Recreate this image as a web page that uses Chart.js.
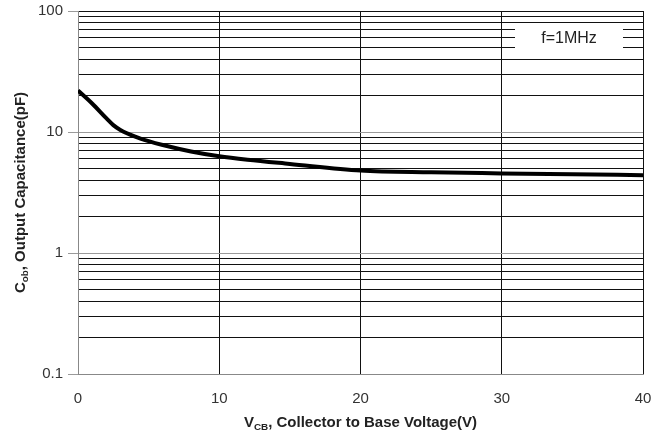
<!DOCTYPE html>
<html lang="en">
<head>
    <meta charset="UTF-8">
    <title>Output Capacitance</title>
    <script src="https://cdn.jsdelivr.net/npm/chart.js"></script>
    <style>
        body { margin: 0; background: #fff; }
        .grafico { width: 670px; height: 439px; position: relative; }
    </style>
</head>
<body>
    <div class="grafico">
        <canvas id="grafico_cob"></canvas>
    </div>

<script>
    // dados (V_CB em volts, C_ob em pF)
    const vcb = [0, 1, 2, 2.5, 3, 4, 5, 6, 8, 10, 12, 15, 20, 25, 30, 35, 40];
    const cob = [22, 17.2, 13.0, 11.4, 10.4, 9.2, 8.4, 7.8, 6.9, 6.3, 5.9, 5.45, 4.8, 4.64, 4.55, 4.47, 4.4];
    const yMajorTicks = [0.1, 1, 10, 100];
    const xTicks = [0, 10, 20, 30, 40];
    const legendaTexto = 'f=1MHz';

    // todas as linhas da grade log: 1..9 de cada década
    const yGridTicks = [];
    for (let d = 0; d < yMajorTicks.length - 1; d++) {
        for (let k = 1; k < 10; k++) yGridTicks.push(+(yMajorTicks[d] * k).toPrecision(3));
    }
    yGridTicks.push(yMajorTicks[yMajorTicks.length - 1]);

    const ehMaior = v => yMajorTicks.some(m => Math.abs(m - v) < 1e-9);

    function textoComSub(ctx, partes, x, y, tam) {
        let largura = 0;
        partes.forEach(p => {
            ctx.font = 'bold ' + (p.sub ? tam * 0.66 : tam) + 'px "Liberation Sans", Arial, sans-serif';
            largura += ctx.measureText(p.t).width;
        });
        let cx = x - largura / 2;
        ctx.textAlign = 'left';
        ctx.textBaseline = 'alphabetic';
        partes.forEach(p => {
            ctx.font = 'bold ' + (p.sub ? tam * 0.66 : tam) + 'px "Liberation Sans", Arial, sans-serif';
            ctx.fillText(p.t, cx, y + (p.sub ? 3 : 0));
            cx += ctx.measureText(p.t).width;
        });
    }

    const extras = {
        id: 'extras',
        beforeDatasetsDraw(chart) {
            const ctx = chart.ctx;
            // caixa da legenda
            ctx.save();
            ctx.fillStyle = '#fff';
            ctx.fillRect(515, 25, 108, 27);
            ctx.fillStyle = '#222';
            ctx.font = '16px "Liberation Sans", Arial, sans-serif';
            ctx.textAlign = 'center';
            ctx.textBaseline = 'middle';
            ctx.fillText(legendaTexto, 569, 39);
            ctx.restore();
        },
        afterDraw(chart) {
            const ctx = chart.ctx;
            const area = chart.chartArea;
            ctx.save();
            ctx.fillStyle = '#222';
            textoComSub(ctx, [{t: 'V'}, {t: 'CB', sub: true}, {t: ', Collector to Base Voltage(V)'}],
                (area.left + area.right) / 2, 427, 15);
            ctx.translate(25, (area.top + area.bottom) / 2);
            ctx.rotate(-Math.PI / 2);
            textoComSub(ctx, [{t: 'C'}, {t: 'ob', sub: true}, {t: ', Output Capacitance(pF)'}], 0, 0, 15);
            ctx.restore();
        }
    };

    new Chart(document.getElementById('grafico_cob'), {
        type: 'line',
        data: {
            datasets: [{
                data: vcb.map((v, i) => ({x: v, y: cob[i]})),
                borderColor: '#000',
                borderWidth: 4,
                pointRadius: 0,
                cubicInterpolationMode: 'monotone',
                fill: false
            }]
        },
        options: {
            responsive: true,
            maintainAspectRatio: false,
            animation: false,
            layout: {padding: {left: 0, right: 27, top: 11, bottom: 0}},
            plugins: {legend: {display: false}, tooltip: {enabled: false}},
            scales: {
                x: {
                    type: 'linear',
                    min: 0,
                    max: 40,
                    afterBuildTicks: s => { s.ticks = xTicks.map(v => ({value: v})); },
                    afterFit: s => { s.height = 65; },
                    ticks: {
                        padding: 16,
                        color: '#333',
                        font: {family: '"Liberation Sans", Arial, sans-serif', size: 15},
                        maxRotation: 0
                    },
                    grid: {
                        drawTicks: false,
                        color: c => (c.tick && c.tick.value === 0) ? '#999' : '#111',
                        lineWidth: 1
                    },
                    border: {color: '#888', width: 1}
                },
                y: {
                    type: 'logarithmic',
                    min: 0.1,
                    max: 100,
                    afterBuildTicks: s => { s.ticks = yGridTicks.map(v => ({value: v})); },
                    afterFit: s => { s.width = 78; s.paddingTop = 0; s.paddingBottom = 0; },
                    ticks: {
                        padding: 5,
                        color: '#333',
                        font: {family: '"Liberation Sans", Arial, sans-serif', size: 15},
                        autoSkip: false,
                        callback: v => ehMaior(v) ? String(v) : ''
                    },
                    grid: {
                        tickLength: 10,
                        color: c => {
                            const v = c.tick ? c.tick.value : 0;
                            if (v === 100) return '#111';
                            return ehMaior(v) ? '#9a9a9a' : '#111';
                        },
                        tickColor: c => (c.tick && ehMaior(c.tick.value)) ? '#9a9a9a' : 'rgba(0,0,0,0)',
                        lineWidth: 1
                    },
                    border: {color: '#888', width: 1}
                }
            }
        },
        plugins: [extras]
    });
</script>
</body>
</html>
